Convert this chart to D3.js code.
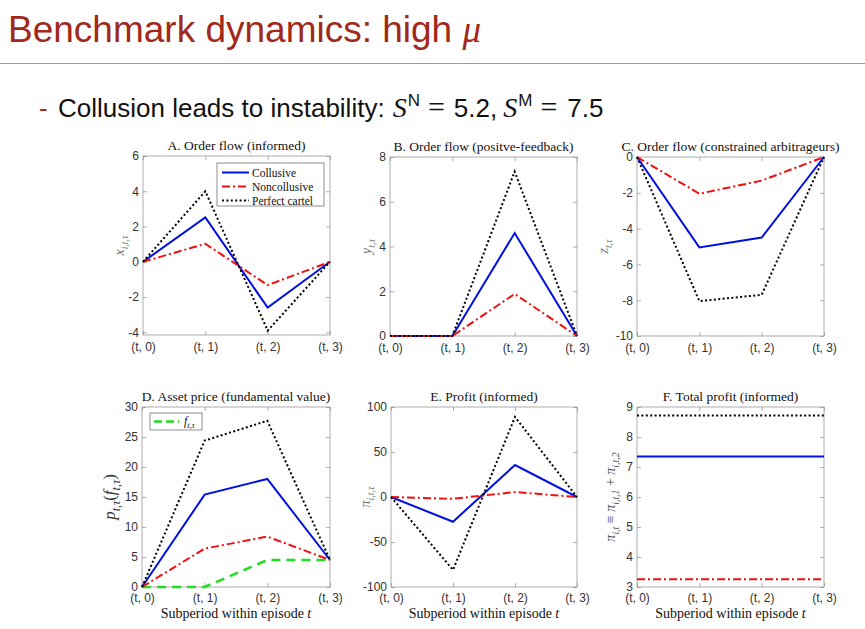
<!DOCTYPE html>
<html>
<head>
<meta charset="utf-8">
<script src="https://cdn.jsdelivr.net/npm/d3@7"></script>
<style>
  body { margin: 0; background: #fff; }
  svg { display: block; }
</style>
</head>
<body>
<div id="chart"></div>
<script>
// ---- data ----
const periods = ["(t, 0)", "(t, 1)", "(t, 2)", "(t, 3)"];

// A. order flow (informed)
const informedCollusive = [0, 2.52, -2.6, 0];
const informedNoncollusive = [0, 1.02, -1.32, 0];
const informedCartel = [0, 4.0, -3.9, 0];

// B. order flow (positive-feedback)
const feedbackCollusive = [0, 0, 4.6, 0];
const feedbackNoncollusive = [0, 0, 1.88, 0];
const feedbackCartel = [0, 0, 7.35, 0];

// C. order flow (constrained arbitrageurs)
const arbCollusive = [0, -5.05, -4.5, 0];
const arbNoncollusive = [0, -2.05, -1.32, 0];
const arbCartel = [0, -8.05, -7.7, 0];

// D. asset price / fundamental value
const priceCollusive = [0, 15.4, 18.0, 4.5];
const priceNoncollusive = [0, 6.4, 8.4, 4.5];
const priceCartel = [0, 24.4, 27.7, 4.5];
const fundamental = [0, 0, 4.5, 4.5];

// E. profit (informed)
const profitCollusive = [0, -27.5, 35.5, 0];
const profitNoncollusive = [0, -2, 5.5, 0];
const profitCartel = [0, -81, 89, 0];

// F. total profit (informed)
const totalCollusive = [7.35, 7.35, 7.35, 7.35];
const totalNoncollusive = [3.26, 3.26, 3.26, 3.26];
const totalCartel = [8.72, 8.72, 8.72, 8.72];

const seriesNames = ["Collusive", "Noncollusive", "Perfect cartel"];

// ---- styling ----
const serif = "'Liberation Serif', 'DejaVu Serif', serif";
const sans = "'Liberation Sans', Arial, sans-serif";
const styles = {
    collusive: {stroke: "#0010e0", dash: null, width: 2},
    noncollusive: {stroke: "#f01010", dash: "8,3,2,3", width: 2},
    cartel: {stroke: "#000", dash: "2,2.4", width: 2},
    fundamental: {stroke: "#22dd22", dash: "9,6", width: 2.5}
};

const W = 865, H = 629;
const svg = d3.select("#chart").append("svg")
    .attr("width", W)
    .attr("height", H);

// slide heading
svg.append("text")
    .attr("x", 8).attr("y", 42)
    .attr("font-family", sans).attr("font-size", 37)
    .attr("fill", "#a1281a")
    .text("Benchmark dynamics: high ")
    .append("tspan")
    .attr("font-family", serif).attr("font-style", "italic")
    .text("μ");

svg.append("line")
    .attr("x1", 0).attr("x2", W)
    .attr("y1", 63.5).attr("y2", 63.5)
    .attr("stroke", "#c98a80").attr("stroke-width", 1);

svg.append("text")
    .attr("x", 39).attr("y", 117)
    .attr("font-family", sans).attr("font-size", 26)
    .attr("fill", "#a1281a")
    .text("-");

let bullet = svg.append("text")
    .attr("x", 58).attr("y", 117)
    .attr("font-family", sans).attr("font-size", 26)
    .attr("fill", "#111");
bullet.append("tspan").text("Collusion leads to instability:");
bullet.append("tspan").attr("dx", 8).attr("font-family", serif).attr("font-style", "italic").attr("font-size", 28).text("S");
bullet.append("tspan").attr("dx", 1).attr("font-size", 17).attr("dy", -11).text("N");
bullet.append("tspan").attr("dx", 8).attr("dy", 11).attr("font-family", serif).attr("font-size", 30).text("=");
bullet.append("tspan").attr("dx", 9).text("5.2,");
bullet.append("tspan").attr("dx", 6).attr("font-family", serif).attr("font-style", "italic").attr("font-size", 28).text("S");
bullet.append("tspan").attr("dx", 1).attr("font-size", 17).attr("dy", -11).text("M");
bullet.append("tspan").attr("dx", 8).attr("dy", 11).attr("font-family", serif).attr("font-size", 30).text("=");
bullet.append("tspan").attr("dx", 10).text("7.5");

// ---- panels ----
const panels = [
    {
        title: "A. Order flow (informed)",
        box: {left: 143, right: 330, top: 156, bottom: 335}, xPad: 7,
        domain: [-4.15, 6], ticks: [-4, -2, 0, 2, 4, 6],
        series: [[informedCollusive, "collusive"], [informedNoncollusive, "noncollusive"], [informedCartel, "cartel"]],
        ylabel: [["x", true], ["i,t,τ", true, "sub"]], ylabelX: 124, ylabelColor: "#777",
        legend: true
    },
    {
        title: "B. Order flow (positve-feedback)",
        box: {left: 390, right: 577, top: 157, bottom: 336}, xPad: 7,
        domain: [0, 8], ticks: [0, 2, 4, 6, 8],
        series: [[feedbackCollusive, "collusive"], [feedbackNoncollusive, "noncollusive"], [feedbackCartel, "cartel"]],
        ylabel: [["y", true], ["t,τ", true, "sub"]], ylabelX: 371, ylabelColor: "#777"
    },
    {
        title: "C. Order flow (constrained arbitrageurs)",
        box: {left: 637, right: 824, top: 157, bottom: 336}, xPad: 7,
        domain: [-10, 0], ticks: [-10, -8, -6, -4, -2, 0],
        series: [[arbCollusive, "collusive"], [arbNoncollusive, "noncollusive"], [arbCartel, "cartel"]],
        ylabel: [["z", true], ["t,τ", true, "sub"]], ylabelX: 608, ylabelColor: "#777"
    },
    {
        title: "D. Asset price (fundamental value)",
        box: {left: 142, right: 330, top: 407, bottom: 587}, xPad: 6,
        domain: [0, 30], ticks: [0, 5, 10, 15, 20, 25, 30],
        series: [[fundamental, "fundamental"], [priceCollusive, "collusive"], [priceNoncollusive, "noncollusive"], [priceCartel, "cartel"]],
        ylabel: [["p", true], ["t,τ", true, "sub"], ["(", false], ["f", true], ["t,τ", true, "sub"], [")", false]],
        ylabelX: 115, ylabelColor: "#333", ylabelSize: 17,
        xlabel: true, fundLegend: true
    },
    {
        title: "E. Profit (informed)",
        box: {left: 391, right: 577, top: 407, bottom: 587}, xPad: 6,
        domain: [-100, 100], ticks: [-100, -50, 0, 50, 100],
        series: [[profitCollusive, "collusive"], [profitNoncollusive, "noncollusive"], [profitCartel, "cartel"]],
        ylabel: [["π", true], ["i,t,τ", true, "sub"]], ylabelX: 370, ylabelColor: "#777",
        xlabel: true
    },
    {
        title: "F. Total profit (informed)",
        box: {left: 637, right: 824, top: 407, bottom: 587}, xPad: 6,
        domain: [3, 9], ticks: [3, 4, 5, 6, 7, 8, 9],
        series: [[totalCartel, "cartel"], [totalCollusive, "collusive"], [totalNoncollusive, "noncollusive"]],
        ylabel: [["π", true], ["i,t", true, "sub"], [" ≡ ", false], ["π", true], ["i,t,1", true, "sub"], [" + ", false], ["π", true], ["i,t,2", true, "sub"]],
        ylabelX: 615, ylabelColor: "#555",
        xlabel: true
    }
];

panels.forEach(drawPanel);

function drawPanel(p) {
    let b = p.box;
    let g = svg.append("g");

    let x = d3.scaleLinear().domain([0, periods.length - 1]).range([b.left, b.right]);
    let y = d3.scaleLinear().domain(p.domain).range([b.bottom, b.top]);

    // box
    g.append("rect")
        .attr("x", b.left).attr("y", b.top)
        .attr("width", b.right - b.left).attr("height", b.bottom - b.top)
        .attr("fill", "#fff").attr("stroke", "#9a9a9a").attr("stroke-width", 0.8);

    // axes, MATLAB style: ticks inward on all four sides
    let yAxisL = d3.axisLeft(y).tickValues(p.ticks).tickFormat(d => String(d))
        .tickSizeInner(-4).tickSizeOuter(0).tickPadding(4);
    let yAxisR = d3.axisRight(y).tickValues(p.ticks).tickFormat("")
        .tickSizeInner(-4).tickSizeOuter(0);
    let xAxisB = d3.axisBottom(x).tickValues(d3.range(periods.length)).tickFormat(i => periods[i])
        .tickSizeInner(-4).tickSizeOuter(0).tickPadding(p.xPad);
    let xAxisT = d3.axisTop(x).tickValues(d3.range(periods.length)).tickFormat("")
        .tickSizeInner(-4).tickSizeOuter(0);

    [[yAxisL, `translate(${b.left},0)`], [yAxisR, `translate(${b.right},0)`],
     [xAxisB, `translate(0,${b.bottom})`], [xAxisT, `translate(0,${b.top})`]].forEach(([ax, tr]) => {
        let a = g.append("g").attr("transform", tr).call(ax);
        a.select(".domain").remove();
        a.selectAll(".tick line").attr("stroke", "#9a9a9a").attr("stroke-width", 0.8);
        a.selectAll(".tick text")
            .attr("font-family", sans).attr("font-size", 12).attr("fill", "#333");
    });

    // series
    let line = d3.line().x((d, i) => x(i)).y(d => y(d));
    p.series.forEach(([vals, key]) => {
        let s = styles[key];
        g.append("path")
            .datum(vals)
            .attr("d", line)
            .attr("fill", "none")
            .attr("stroke", s.stroke)
            .attr("stroke-width", s.width)
            .attr("stroke-dasharray", s.dash);
    });

    // title
    g.append("text")
        .attr("x", (b.left + b.right) / 2).attr("y", b.top - 6)
        .attr("text-anchor", "middle")
        .attr("font-family", serif).attr("font-size", 13.5).attr("fill", "#111")
        .text(p.title);

    // y label
    let size = p.ylabelSize || 14;
    let yl = g.append("text")
        .attr("transform", `translate(${p.ylabelX},${(b.top + b.bottom) / 2}) rotate(-90)`)
        .attr("text-anchor", "middle")
        .attr("font-family", serif).attr("font-size", size).attr("fill", p.ylabelColor);
    let lifted = false;
    p.ylabel.forEach(([txt, ital, sub]) => {
        let t = yl.append("tspan").text(txt);
        if (ital) t.attr("font-style", "italic");
        if (sub) {
            t.attr("font-size", size * 0.7);
            if (!lifted) { t.attr("dy", size * 0.3); lifted = true; }
        } else if (lifted) {
            t.attr("dy", -size * 0.3); lifted = false;
        }
    });

    // x label
    if (p.xlabel) {
        let xl = g.append("text")
            .attr("x", (b.left + b.right) / 2).attr("y", b.bottom + 31)
            .attr("text-anchor", "middle")
            .attr("font-family", serif).attr("font-size", 14).attr("fill", "#111");
        xl.append("tspan").text("Subperiod within episode ");
        xl.append("tspan").attr("font-style", "italic").text("t");
    }

    // legend (panel A)
    if (p.legend) {
        let lg = g.append("g").attr("transform", `translate(${b.left + 74},${b.top + 7})`);
        lg.append("rect").attr("width", 107).attr("height", 43)
            .attr("fill", "#fff").attr("stroke", "#444").attr("stroke-width", 0.6);
        ["collusive", "noncollusive", "cartel"].forEach((key, i) => {
            let s = styles[key];
            let yy = 9.5 + i * 14;
            lg.append("line")
                .attr("x1", 5).attr("x2", 32).attr("y1", yy).attr("y2", yy)
                .attr("stroke", s.stroke).attr("stroke-width", s.width)
                .attr("stroke-dasharray", s.dash);
            lg.append("text")
                .attr("x", 35).attr("y", yy + 4)
                .attr("font-family", serif).attr("font-size", 11.5).attr("fill", "#111")
                .text(seriesNames[i]);
        });
    }

    // legend (panel D)
    if (p.fundLegend) {
        let lg = g.append("g").attr("transform", `translate(${b.left + 8},${b.top + 6})`);
        lg.append("rect").attr("width", 52).attr("height", 17)
            .attr("fill", "#fff").attr("stroke", "#444").attr("stroke-width", 0.6);
        let s = styles.fundamental;
        lg.append("line")
            .attr("x1", 4).attr("x2", 29).attr("y1", 8.5).attr("y2", 8.5)
            .attr("stroke", s.stroke).attr("stroke-width", s.width)
            .attr("stroke-dasharray", "8,4");
        let t = lg.append("text").attr("x", 34).attr("y", 12)
            .attr("font-family", serif).attr("font-size", 12).attr("fill", "#111");
        t.append("tspan").attr("font-style", "italic").text("f");
        t.append("tspan").attr("font-style", "italic").attr("font-size", 8.5).attr("dy", 3).text("t,τ");
    }
}
</script>
</body>
</html>
